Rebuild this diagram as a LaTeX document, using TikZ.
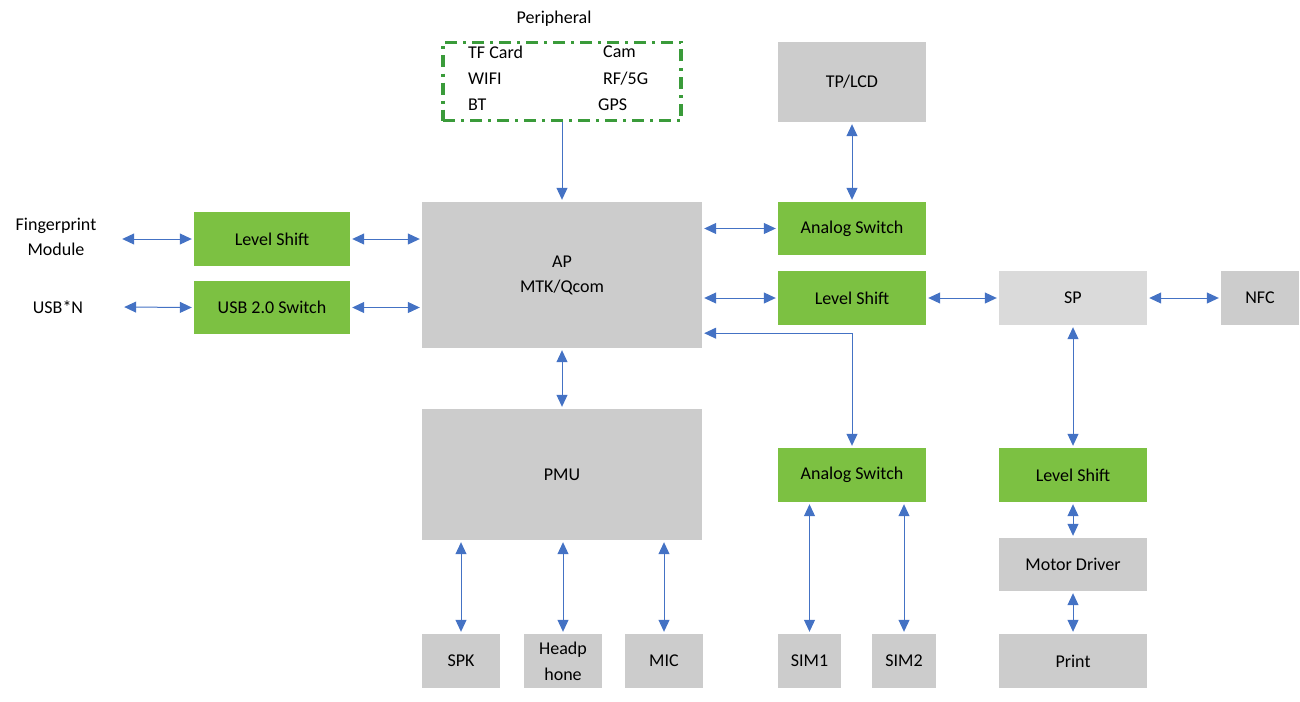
\documentclass[tikz,border=0pt]{standalone}
\usepackage{fontspec}
\setmainfont{Carlito}
\definecolor{boxgreen}{RGB}{124,193,66}
\definecolor{boxgray}{RGB}{204,204,204}
\definecolor{spgray}{RGB}{218,218,218}
\definecolor{linkblue}{RGB}{68,114,196}
\definecolor{dashgreen}{RGB}{58,155,58}
\usetikzlibrary{arrows.meta,positioning}

\begin{document}
\begin{tikzpicture}[x=1pt, y=-1pt,
    font=\fontsize{18}{25}\selectfont,
    gbox/.style={fill=boxgreen, minimum width=148pt, minimum height=54pt},
    hbox/.style={fill=boxgray, minimum width=148pt, minimum height=54pt},
    sbox/.style={fill=boxgray, minimum width=78pt, minimum height=54pt, align=center, inner sep=1pt},
    link/.style={linkblue, line width=1pt, shorten <=2pt, shorten >=2pt,
        {Triangle[length=12pt,width=11pt]}-{Triangle[length=12pt,width=11pt]}},
    oneway/.style={linkblue, line width=1pt, shorten >=2pt, -{Triangle[length=12pt,width=11pt]}}]
    \useasboundingbox (0,0) rectangle (1300,701);

    % Peripheral group
    \node (periphlabel) at (554,19) {Peripheral};
    \node[draw=dashgreen, line width=3.5pt, dash pattern=on 12pt off 6pt on 3pt off 6pt,
        minimum width=238pt, minimum height=78pt] (periph) at (562,81.5) {};
    \foreach \n/\x/\y/\t in {tf/468/52/TF Card, wifi/468/79/WIFI, bt/468/105/BT,
                             cam/603/52/Cam, rf/603/79/{RF/5G}, gps/598/105/GPS} {
        \node[anchor=west, inner sep=0pt] (\n) at (\x,\y) {\t};
    }

    % AP and PMU
    \node[fill=boxgray, minimum width=280pt, minimum height=146pt, align=center] (ap) at (562,275) {AP\\MTK/Qcom};
    \node[fill=boxgray, minimum width=280pt, minimum height=131pt] (pmu) at (562,474.5) {PMU};

    % Left side
    \node[minimum width=128pt, align=center] (fp) at (56,237) {Fingerprint\\Module};
    \node[minimum width=128pt] (usbn) at (58,307) {USB*N};
    \node[gbox, minimum width=156pt] (ls1) at (272,239) {Level Shift};
    \node[gbox, minimum width=156pt, minimum height=53pt] (usb) at (272,307.5) {USB 2.0 Switch};

    % Right side
    \node[hbox, minimum height=80pt] (tplcd) at (852,82) {TP/LCD};
    \node[gbox, minimum height=53pt] (as1) at (852,228.5) {Analog Switch};
    \node[gbox] (ls2) at (852,298) {Level Shift};
    \node[hbox, fill=spgray] (sp) at (1073,298) {SP};
    \node[sbox] (nfc) at (1260,298) {NFC};
    \node[gbox] (as2) at (852,475) {Analog Switch};
    \node[gbox] (ls3) at (1073,475) {Level Shift};
    \node[hbox, minimum height=53pt] (md) at (1073,564.5) {Motor Driver};
    \node[hbox] (print) at (1073,661) {Print};
    \node[sbox, minimum width=63pt] (sim1) at (809.5,661) {SIM1};
    \node[sbox, minimum width=64pt] (sim2) at (904,661) {SIM2};

    % Audio
    \node[sbox] (spk) at (461,661) {SPK};
    \node[sbox, font=\fontsize{18}{26}\selectfont] (hp) at (563,661) {Headp\\hone};
    \node[sbox] (mic) at (664,661) {MIC};

    % Connections
    \draw[oneway] (periph.south) -- (ap.north);
    \draw[link] (fp.east |- ls1.west) -- (ls1.west);
    \draw[link] (usbn.east) -- (usb.west);
    \draw[link] (ls1.east) -- (ls1.east -| ap.west);
    \draw[link] (usb.east) -- (usb.east -| ap.west);
    \draw[link] (tplcd.south) -- (as1.north);
    \draw[link] (ap.east |- as1.west) -- (as1.west);
    \draw[link] (ap.east |- ls2.west) -- (ls2.west);
    \draw[link] ([yshift=15pt]ap.south east) -| (as2.north);
    \draw[link] (ls2.east) -- (sp.west);
    \draw[link] (sp.east) -- (nfc.west);
    \draw[link] (sp.south) -- (ls3.north);
    \draw[link] (ls3.south) -- (md.north);
    \draw[link] (md.south) -- (print.north);
    \draw[link] (ap.south) -- (pmu.north);
    \foreach \b in {spk,hp,mic} {
        \draw[link] (pmu.south -| \b.north) -- (\b.north);
    }
    \foreach \b in {sim1,sim2} {
        \draw[link] (as2.south -| \b.north) -- (\b.north);
    }
\end{tikzpicture}
\end{document}
